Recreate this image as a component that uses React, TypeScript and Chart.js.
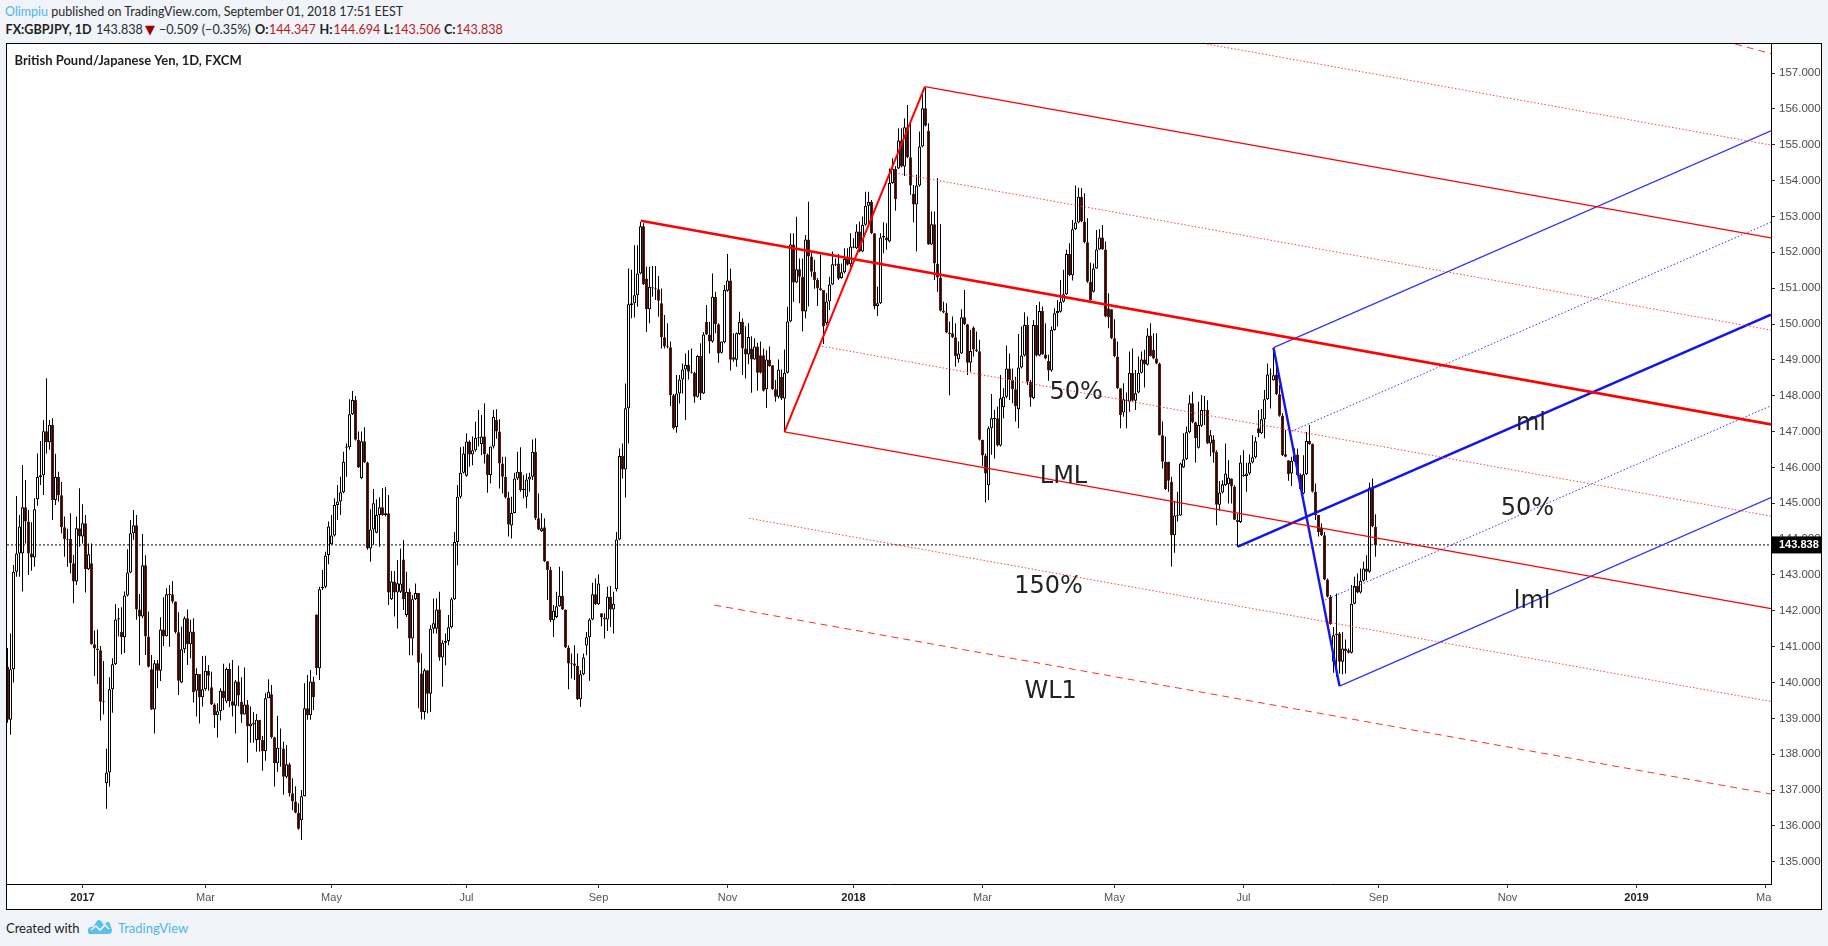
import React, { useEffect, useRef } from "react";
import { Chart, registerables } from "chart.js";

Chart.register(...registerables);

const opens = [
140.44,138.96,140.37,143.09,143.6,143.6,144.89,144.49,143.6,143.49,
145.11,145.73,145.78,147.01,146.7,147.18,145.09,145.73,145.22,144.33,
144.0,144.0,143.33,142.82,144.3,144.07,144.44,143.16,143.33,141.07,
140.95,140.9,139.47,137.19,137.49,139.81,140.51,141.76,141.41,141.26,
142.43,143.07,144.16,144.39,142.04,141.84,143.27,141.28,140.37,139.25,
140.54,140.33,141.48,141.29,142.46,142.46,142.26,141.4,140.0,140.93,
141.79,141.07,141.42,139.77,140.24,139.59,139.81,140.33,139.87,139.39,
139.09,139.2,139.77,139.47,140.38,139.48,139.35,140.03,139.47,139.11,
139.39,138.78,138.88,138.4,138.96,138.4,138.08,139.56,139.67,138.47,
137.75,138.18,138.16,137.37,137.72,136.91,136.68,136.37,136.16,136.83,
139.28,139.09,140.03,141.9,140.4,142.63,142.67,143.56,143.86,144.1,
144.95,145.05,145.31,146.58,146.56,147.48,147.88,146.77,145.7,146.73,
146.14,143.74,144.27,144.18,144.67,144.89,144.67,144.72,142.32,142.82,
142.51,142.53,143.43,141.88,142.53,141.23,142.32,142.5,140.25,139.18,
140.34,139.69,141.5,141.5,142.04,140.7,141.11,141.16,141.54,142.32,
143.92,145.18,145.85,145.77,146.72,146.36,146.48,146.81,146.65,146.86,
146.36,145.79,146.58,147.32,147.0,146.11,145.74,145.16,144.38,144.73,
145.69,145.88,145.37,145.18,145.66,145.74,146.44,144.58,144.22,144.33,
143.38,143.14,141.74,141.83,142.13,142.42,142.04,140.98,140.53,140.53,
140.47,139.53,140.23,141.03,141.26,141.76,142.46,142.18,141.93,141.81,
141.76,142.39,142.04,142.6,143.99,146.32,145.94,147.65,150.53,150.58,
150.8,151.41,152.73,151.27,150.41,151.02,150.99,150.97,150.58,149.63,
149.37,149.35,148.01,147.13,148.06,148.45,148.73,148.86,148.67,148.64,
147.97,149.11,148.06,150.06,149.71,149.51,150.76,149.99,149.2,149.49,
150.93,151.21,149.07,149.0,149.72,150.06,149.32,149.15,149.32,149.01,
149.37,149.13,149.13,148.18,149.01,148.85,148.18,147.97,148.53,147.92,
148.64,150.07,152.22,151.16,151.53,151.32,150.35,152.36,151.88,151.46,
151.23,151.0,150.95,150.02,150.63,151.1,151.67,151.69,151.28,151.44,
151.81,151.67,152.16,152.11,152.58,152.02,152.77,153.3,153.41,152.53,
150.5,150.58,152.41,152.41,152.3,153.93,154.33,154.34,155.12,154.39,
155.49,154.65,153.63,153.33,153.86,154.95,156.02,155.38,152.22,152.78,
151.69,151.3,150.37,150.32,149.76,149.74,149.63,149.02,149.18,150.19,
149.99,148.92,149.9,149.29,149.24,146.77,146.33,145.5,147.09,147.35,
147.37,146.61,147.68,147.97,148.76,148.44,148.18,147.62,148.79,149.12,
149.97,148.39,147.93,149.97,149.12,150.36,149.15,148.97,148.7,149.83,
150.3,150.34,150.62,150.83,151.95,151.36,152.64,152.83,153.55,152.86,
152.28,151.18,150.9,151.55,152.08,152.41,152.08,150.44,150.41,149.6,
149.09,148.21,147.53,147.86,147.83,148.64,147.86,148.09,148.64,149.01,
148.86,149.68,149.28,149.04,148.9,146.9,146.16,146.16,145.6,144.11,
144.65,144.66,146.0,146.23,146.98,147.79,147.26,146.55,147.16,147.58,
147.6,146.67,146.78,146.43,144.96,145.3,145.5,145.53,145.69,145.47,
144.53,144.48,145.78,145.76,145.83,146.14,146.28,147.09,146.95,147.34,
147.9,148.59,148.43,148.59,148.04,147.44,146.37,146.2,145.83,146.17,
146.36,145.79,145.27,145.81,146.74,146.65,145.32,144.67,144.32,144.11,
142.87,142.39,140.58,141.37,141.37,140.58,140.95,140.9,140.83,142.2,
142.69,142.51,142.84,143.18,143.09,145.44,144.347,
];

const closes = [
138.96,140.37,143.09,143.6,144.35,144.89,144.49,143.6,143.49,144.83,
145.73,145.78,147.01,146.7,147.19,145.09,145.73,145.22,144.33,144.0,
143.98,143.33,142.82,144.3,144.07,144.44,143.16,143.58,141.07,140.95,
140.9,139.46,139.45,137.49,139.81,140.51,141.76,141.79,141.26,142.43,
143.07,144.16,144.39,142.04,141.84,143.27,141.28,140.44,139.25,140.54,
140.33,141.48,141.29,142.46,142.44,142.26,141.4,140.05,140.93,141.79,
141.07,141.42,139.73,140.24,139.59,139.81,140.33,140.19,139.39,139.09,
139.2,139.77,139.56,140.38,139.48,139.35,140.03,139.64,139.11,139.39,
138.78,138.86,138.83,138.96,138.4,138.08,139.56,139.74,138.47,137.75,
138.18,138.16,137.37,137.72,136.91,136.68,136.37,135.92,136.83,139.28,
139.09,140.03,139.59,140.4,142.6,142.67,143.54,144.35,144.1,144.95,
145.05,145.31,146.16,146.55,147.48,147.88,146.77,146.0,146.73,146.14,
143.74,144.27,145.0,144.67,144.89,144.67,144.72,142.51,142.82,142.51,
142.77,142.76,142.32,142.53,141.23,142.32,142.5,140.55,139.18,140.34,
139.69,141.5,141.65,142.04,140.7,141.11,141.16,141.54,142.32,143.92,
145.18,145.85,146.39,146.72,146.36,146.48,146.83,146.84,146.86,146.36,
145.79,146.58,147.41,147.0,146.11,145.74,145.16,144.41,144.73,145.69,
145.88,145.37,145.39,145.66,145.74,146.44,144.58,144.27,144.3,143.38,
143.14,141.74,142.0,142.13,142.42,142.04,140.98,140.53,140.51,140.47,
139.53,140.23,140.7,141.26,141.76,142.46,142.18,142.76,141.81,141.76,
142.39,142.04,142.2,143.99,146.32,145.94,147.65,150.55,150.58,150.8,
151.41,152.73,151.11,150.41,151.04,151.0,150.97,150.65,149.63,149.37,
149.35,148.01,147.1,148.06,148.45,148.73,148.86,148.67,148.64,147.97,
149.11,148.06,149.71,149.71,149.51,150.76,149.99,149.18,149.51,150.95,
151.21,149.0,149.0,149.74,150.06,149.32,149.15,149.64,149.01,149.37,
148.64,148.64,148.14,149.01,148.83,148.18,147.97,148.73,147.92,148.64,
150.07,152.22,151.16,151.53,151.32,150.35,152.36,151.88,151.46,151.23,
151.0,150.95,149.93,150.63,151.1,151.67,151.64,151.26,151.44,151.81,
151.65,152.16,152.13,152.58,152.02,152.77,153.3,153.41,152.53,150.49,
150.58,152.41,152.46,152.33,153.93,154.33,153.48,155.12,154.39,155.49,
154.65,153.86,153.33,153.86,154.95,156.02,155.53,152.22,152.78,151.69,
151.3,150.37,150.32,149.76,149.72,149.63,149.11,149.18,150.19,149.99,
148.92,149.25,149.29,149.24,146.77,146.33,145.83,147.09,147.37,147.37,
146.61,147.93,147.97,148.76,148.44,148.18,147.71,148.79,149.12,149.97,
148.39,147.95,149.97,149.12,150.36,149.15,149.04,148.7,149.83,150.3,
150.36,150.62,150.83,151.95,151.36,152.64,152.83,153.55,152.86,152.28,
151.18,150.67,151.55,152.08,152.41,152.08,150.21,150.19,149.6,149.11,
148.21,147.46,147.9,147.88,148.64,147.86,148.07,148.64,149.01,148.88,
149.68,149.11,149.04,148.9,146.9,146.16,145.39,145.63,144.11,144.66,
144.66,146.11,146.23,146.98,147.79,147.26,146.82,147.18,147.6,147.6,
146.67,146.9,146.41,144.96,145.3,145.53,145.83,145.72,145.47,144.54,
144.48,146.14,145.76,145.83,146.14,146.28,146.73,146.95,147.34,147.9,
148.59,148.62,148.57,148.04,147.44,146.34,146.3,145.81,146.18,146.34,
145.79,145.39,145.81,146.74,146.65,145.32,144.67,144.19,144.11,142.87,
142.39,141.63,141.32,141.32,140.58,140.95,140.88,140.83,142.2,142.69,
142.51,142.84,143.18,143.09,145.44,144.35,143.838,
];

const highs = [
140.96,141.37,143.28,145.2,144.67,146.07,145.65,144.81,144.47,145.14,
146.39,146.74,147.32,148.49,147.32,147.37,146.38,145.88,145.59,144.63,
144.29,144.72,143.56,144.63,145.42,144.97,144.67,143.88,143.88,141.45,
141.48,141.02,140.6,138.16,140.15,140.68,142.19,142.07,142.1,142.54,
143.72,144.53,144.81,144.67,142.47,144.14,143.55,141.98,140.77,140.63,
140.63,141.82,142.38,142.63,142.72,142.83,142.26,141.96,141.56,141.84,
142.04,141.75,141.79,140.4,140.24,140.74,140.75,140.49,140.3,139.42,
139.42,139.84,140.52,140.42,140.54,140.63,140.07,140.47,140.15,140.42,
139.51,139.33,139.17,139.12,138.95,138.51,139.7,140.09,139.93,138.49,
139.07,138.72,138.35,138.26,137.76,137.33,137.11,136.63,137.0,139.98,
140.21,140.35,140.16,141.9,142.67,143.14,143.65,144.49,144.67,145.14,
145.51,145.74,146.44,146.67,147.9,148.13,147.99,147.0,147.0,147.12,
146.16,144.83,145.4,145.11,145.17,145.42,145.45,145.23,143.11,143.11,
143.42,143.74,143.97,143.09,142.62,142.44,142.76,142.5,140.81,140.39,
140.34,141.6,142.34,142.34,142.53,141.18,141.37,141.88,142.37,144.2,
145.51,146.56,146.58,146.95,146.76,146.86,147.27,147.6,147.46,147.79,
146.39,146.58,147.6,147.62,147.34,146.3,146.3,145.32,145.18,145.85,
146.44,146.56,145.79,145.83,145.85,146.78,146.81,145.27,144.72,144.58,
143.38,143.23,142.16,142.53,143.23,143.11,142.04,141.04,140.81,141.04,
140.81,140.34,140.81,141.41,141.79,142.78,142.9,143.02,141.93,141.93,
142.67,142.69,142.53,144.2,146.53,146.67,148.34,151.55,151.51,152.2,
152.2,152.85,152.81,151.6,151.6,151.62,151.62,151.34,150.99,150.25,
150.02,149.51,148.05,148.58,148.58,148.9,149.18,149.27,149.32,148.67,
149.13,149.46,149.78,150.53,150.06,151.41,150.9,150.02,149.51,151.09,
151.95,151.55,149.74,149.76,150.34,150.16,149.94,150.02,149.66,149.6,
149.48,149.51,149.32,149.27,149.37,148.85,148.44,149.01,148.73,149.29,
150.48,152.53,152.53,152.99,151.83,151.83,152.48,153.41,151.97,151.79,
151.28,151.93,150.95,150.86,151.32,152.02,151.83,151.95,151.69,152.11,
152.11,152.53,152.39,152.78,152.86,153.0,153.69,153.69,153.46,152.53,
151.04,152.53,152.84,152.81,154.34,154.62,154.41,155.46,155.46,155.74,
156.11,155.65,153.88,154.16,155.37,156.53,156.59,155.6,153.14,153.14,
154.07,152.78,150.62,150.58,150.07,150.21,150.02,149.51,150.41,150.95,
150.0,149.83,149.93,149.79,149.56,146.77,146.39,147.14,148.05,147.6,
147.69,148.58,148.21,149.4,149.18,148.76,148.53,149.72,149.93,150.33,
150.21,148.44,150.11,150.53,150.62,150.49,150.02,149.14,149.93,150.44,
150.67,151.23,151.51,152.07,152.25,152.9,153.86,153.8,153.79,153.65,
152.95,151.71,151.69,152.62,152.64,152.76,152.3,150.86,150.41,150.13,
149.51,148.21,148.35,148.09,149.23,149.32,148.72,149.09,149.23,149.28,
149.88,150.02,149.74,149.74,148.92,147.28,146.86,146.16,145.74,145.04,
145.32,146.13,146.95,147.14,148.02,148.11,147.27,147.83,148.01,147.99,
147.87,147.04,146.9,146.48,145.62,145.64,146.67,146.2,145.69,145.5,
144.71,146.34,146.48,146.13,146.36,146.9,146.85,147.6,147.63,148.16,
148.9,148.76,149.32,148.81,148.3,147.51,147.04,146.2,146.3,146.53,
146.53,145.83,146.34,146.99,147.18,146.67,145.55,144.67,144.44,144.2,
142.9,142.44,141.55,142.48,141.41,141.41,141.2,140.95,142.72,142.95,
143.04,143.18,143.37,143.55,145.57,145.69,144.694,
];

const lows = [
138.88,138.54,140.0,142.95,142.95,142.54,143.88,143.0,143.12,143.23,
144.93,145.51,145.23,146.39,146.49,144.53,144.95,145.05,144.16,143.51,
143.23,143.05,142.21,142.72,143.79,143.88,142.51,143.14,141.05,140.18,
139.96,138.94,139.11,136.48,137.1,139.16,140.49,141.28,140.79,140.82,
142.4,143.05,143.98,141.75,140.48,141.79,140.77,140.42,139.23,138.58,
139.84,140.04,141.02,141.28,141.0,142.21,141.37,139.65,139.98,140.82,
140.49,140.68,139.44,139.05,138.86,139.33,139.77,139.77,139.37,138.74,
138.46,138.94,139.23,139.42,139.31,139.05,138.58,139.33,138.88,139.11,
137.76,138.32,138.32,138.07,138.07,137.54,137.82,139.56,138.44,137.1,
137.51,137.65,136.87,137.33,136.82,136.44,136.35,135.89,135.61,136.82,
138.96,138.96,139.23,140.21,140.07,142.58,142.63,143.3,143.84,144.07,
144.53,144.67,145.28,145.74,146.49,147.46,146.75,145.98,145.67,146.12,
143.7,143.37,143.84,144.16,143.79,144.65,144.63,142.16,142.3,141.84,
141.51,142.5,142.02,141.83,140.76,140.76,142.3,139.28,138.97,138.97,
139.14,139.18,141.37,141.37,140.61,139.88,140.48,141.04,141.51,142.3,
143.27,145.13,145.83,145.74,146.02,146.06,146.44,146.58,146.34,146.11,
145.29,145.55,146.53,146.8,145.41,145.27,145.13,144.07,144.02,144.72,
145.65,145.32,145.13,144.86,145.32,145.65,144.53,144.25,144.2,143.36,
142.3,141.69,141.27,141.79,142.11,142.02,140.96,139.81,140.11,140.07,
139.51,139.32,140.2,140.76,140.05,141.74,142.16,142.16,141.57,141.23,
141.44,141.55,141.37,142.54,143.97,145.69,145.16,146.67,150.16,150.18,
150.48,151.39,151.09,149.78,150.02,150.76,150.67,150.2,149.32,149.32,
149.32,147.71,147.06,146.97,147.78,148.06,147.32,148.45,148.62,147.8,
147.95,147.88,148.05,149.69,149.18,149.48,149.74,148.92,149.18,149.46,
150.9,148.7,148.95,148.81,149.69,148.58,148.48,148.88,148.08,149.0,
148.14,148.62,148.12,147.66,148.81,148.16,147.83,147.92,147.88,146.99,
148.62,150.05,150.62,151.14,150.58,149.79,150.16,150.49,151.32,150.98,
150.5,150.93,149.44,149.97,150.39,151.09,151.62,151.23,151.26,151.41,
151.63,151.6,152.11,152.09,152.0,152.0,152.74,152.72,152.51,150.41,
150.22,150.56,151.97,152.07,152.28,153.91,153.16,154.32,154.37,154.13,
154.62,153.6,152.84,152.02,153.83,154.93,155.51,152.21,152.21,151.23,
150.9,150.35,150.3,149.74,148.01,149.61,148.81,148.92,149.16,149.97,
148.58,148.67,149.09,149.22,146.75,146.04,145.02,145.09,146.35,146.25,
146.58,146.58,147.37,147.93,147.88,147.79,147.28,147.09,148.76,149.09,
148.3,147.69,147.9,149.09,149.1,149.14,149.02,148.42,148.67,149.81,
149.93,150.32,150.6,150.81,151.34,151.21,152.62,152.81,152.84,152.25,
151.15,150.65,150.88,151.54,152.07,152.07,150.19,149.88,149.58,149.07,
148.19,147.09,147.41,147.09,147.55,147.84,147.6,148.07,148.62,148.23,
148.84,149.09,149.02,148.88,146.89,145.97,145.37,145.32,143.23,143.62,
144.49,144.65,145.98,146.21,146.95,147.23,146.13,146.53,147.13,147.18,
146.65,146.31,146.13,144.39,144.79,145.27,145.48,144.99,144.99,144.53,
143.78,144.45,145.74,145.32,145.79,146.11,146.25,146.84,146.93,146.81,
147.88,147.64,148.42,148.02,147.41,146.32,146.28,145.63,145.48,146.16,
145.77,145.37,145.25,145.79,146.63,145.3,144.53,144.07,144.09,142.85,
142.37,141.61,140.27,140.16,140.25,140.23,140.25,140.81,140.81,142.18,
142.49,142.48,142.82,142.85,143.06,144.33,143.506,
];

const lastPrice = 143.838;
const priceTicks = [135,136,137,138,139,140,141,142,143,144,145,146,147,148,149,150,151,152,153,154,155,156,157];
const timeTickBars = [25,66,108,153,197,240,282,325,369,412,457,500,543,586];
const timeTickLabels = ["2017","Mar","May","Jul","Sep","Nov","2018","Mar","May","Jul","Sep","Nov","2019","Mar"];
const boldTimeLabels = ["2017","2018","2019"];

const RED = "#ff0000";
const BLUE = "#1414f0";
const PINK = "#ff4040";
const LIGHTBLUE = "#3030ff";

const redMedian = [{x:211.1,y:152.88},{x:587.83,y:147.2}];
const redUpper = [{x:305.8,y:156.62},{x:587.83,y:152.4}];
const redLower = [{x:259,y:146.99},{x:587.83,y:142.06}];
const redHandle = [{x:259,y:146.99},{x:305.8,y:156.62}];
const redUpper50 = [{x:297,y:154.2},{x:587.83,y:149.83}];
const redLower50 = [{x:271.5,y:149.38},{x:587.83,y:144.64}];
const redLower150 = [{x:247.2,y:144.58},{x:587.83,y:139.47}];
const redWarning = [{x:235.6,y:142.16},{x:587.83,y:136.89}];
const redUpper150 = [{x:399.8,y:157.81},{x:587.83,y:154.99}];
const redUpperWarning = [{x:575.9,y:157.81},{x:587.83,y:157.54}];
const blueMedian = [{x:410.1,y:143.79},{x:587.83,y:150.26}];
const blueHandle = [{x:422,y:149.34},{x:444,y:139.9}];
const blueUpper = [{x:422,y:149.34},{x:587.83,y:155.39}];
const blueLower = [{x:444,y:139.9},{x:587.83,y:145.16}];
const blueUpper50 = [{x:428.1,y:147.01},{x:587.83,y:152.84}];
const blueLower50 = [{x:439.2,y:142.3},{x:587.83,y:147.72}];
const priceLine = [{x:-0.17,y:lastPrice},{x:587.83,y:lastPrice}];

const noteLabels = ["ml","50%","lml","50%","LML","150%","WL1"];
const noteBars = [507.8,506.6,508.2,356.2,352,347,347.7];
const notePrices = [147.21,144.84,142.24,148.07,145.74,142.67,139.74];

const lineDs = (data: any[], color: string, width: number, dash: number[] = []) => ({
  type: "line" as const,
  data,
  borderColor: color,
  borderWidth: width,
  borderDash: dash,
  pointRadius: 0,
  pointHoverRadius: 0,
  fill: false,
  tension: 0,
  order: 1,
  parsing: false as const,
  borderCapStyle: "butt" as const,
});

const overlay = {
  id: "overlay",
  afterDatasetsDraw(chart: any) {
    const { ctx, scales, chartArea, width, height } = chart;
    ctx.save();
    // the last time label is cut off by the price axis column
    ctx.fillStyle = "#ffffff";
    ctx.fillRect(chartArea.right + 1, chartArea.bottom + 1, width - chartArea.right, height - chartArea.bottom);
    // drawing notes
    ctx.font = '24px "DejaVu Sans"';
    ctx.fillStyle = "#222222";
    ctx.textAlign = "center";
    ctx.textBaseline = "middle";
    noteLabels.forEach((t, i) => {
      ctx.fillText(t, scales.x.getPixelForValue(noteBars[i]), scales.y.getPixelForValue(notePrices[i]));
    });
    // chart title
    ctx.font = 'bold 13px "Lato"';
    ctx.textAlign = "left";
    ctx.fillStyle = "#1e1e1e";
    ctx.fillText("British Pound/Japanese Yen, 1D, FXCM", 7.5, 17);
    // last price box
    const yy = scales.y.getPixelForValue(lastPrice);
    ctx.fillStyle = "#000000";
    ctx.fillRect(chartArea.right, yy - 8.5, width - chartArea.right, 17);
    ctx.fillStyle = "#ffffff";
    ctx.font = 'bold 11px "Liberation Sans"';
    ctx.textAlign = "left";
    ctx.fillText(lastPrice.toFixed(3), chartArea.right + 8, yy + 0.5);
    ctx.restore();
  },
};

const dropPadding = (scale: any) => {
  scale.paddingTop = 0;
  scale.paddingBottom = 0;
  scale.paddingLeft = 0;
  scale.paddingRight = 0;
};

export default function App() {
  const ref = useRef<HTMLCanvasElement | null>(null);
  useEffect(() => {
    document.body.style.margin = "0";
    document.body.style.background = "#f0f3f7";
    const bars = opens.map((_, i) => i);
    const isUp = (i: number) => closes[i] >= opens[i];
    const chart = new Chart(ref.current as HTMLCanvasElement, {
      type: "bar",
      data: {
        datasets: [
          lineDs(redMedian, RED, 2.6),
          lineDs(redHandle, RED, 2),
          lineDs(redUpper, RED, 1.2),
          lineDs(redLower, RED, 1.2),
          lineDs(redUpper50, PINK, 1, [1.5, 2]),
          lineDs(redLower50, PINK, 1, [1.5, 2]),
          lineDs(redLower150, PINK, 1, [1.5, 2]),
          lineDs(redUpper150, PINK, 1, [1.5, 2]),
          lineDs(redWarning, "#ff3030", 1, [7, 5]),
          lineDs(redUpperWarning, "#ff3030", 1, [7, 5]),
          lineDs(blueMedian, BLUE, 2.6),
          lineDs(blueHandle, BLUE, 2.4),
          lineDs(blueUpper, LIGHTBLUE, 1.2),
          lineDs(blueLower, LIGHTBLUE, 1.2),
          lineDs(blueUpper50, LIGHTBLUE, 1, [1.5, 2]),
          lineDs(blueLower50, LIGHTBLUE, 1, [1.5, 2]),
          lineDs(priceLine, "#000000", 1, [2, 2]),
          {
            type: "bar",
            label: "body",
            data: bars.map((i) => ({ x: i, y: [opens[i], closes[i]] })),
            backgroundColor: bars.map((i) => (isUp(i) ? "#ffffff" : "#1c0c0a")),
            borderColor: bars.map((i) => (isUp(i) ? "#000000" : "#5a1a14")),
            borderWidth: 1,
            borderSkipped: false,
            barThickness: 3,
            minBarLength: 1,
            inflateAmount: 0,
            order: 5,
          },
          {
            type: "bar",
            label: "wick",
            data: bars.map((i) => ({ x: i, y: [lows[i], highs[i]] })),
            backgroundColor: "#000000",
            borderWidth: 0,
            barThickness: 1,
            inflateAmount: 0,
            order: 6,
          },
        ] as any,
      },
      options: {
        animation: false,
        responsive: false,
        maintainAspectRatio: false,
        devicePixelRatio: 1,
        layout: { padding: 0 },
        plugins: { legend: { display: false }, tooltip: { enabled: false }, title: { display: false } },
        datasets: { bar: { grouped: false } },
        scales: {
          x: {
            type: "linear",
            offset: false,
            min: -0.1667,
            max: 587.8333,
            grid: { offset: false, display: true, drawOnChartArea: false, drawTicks: true, tickLength: 4, color: "#333333" },
            border: { display: true, color: "#000000", width: 1 },
            afterBuildTicks(scale: any) {
              scale.ticks = timeTickBars.map((v) => ({ value: v }));
            },
            afterFit(scale: any) {
              scale.height = 25;
              dropPadding(scale);
            },
            ticks: {
              autoSkip: false,
              maxRotation: 0,
              padding: 3,
              callback(value: any) {
                return timeTickLabels[timeTickBars.indexOf(value)];
              },
              color(c: any) {
                const label = timeTickLabels[c.index];
                return boldTimeLabels.includes(label) ? "#222222" : "#555555";
              },
              font(c: any) {
                const label = timeTickLabels[c.index];
                return { family: "Liberation Sans", size: 11, weight: boldTimeLabels.includes(label) ? "bold" : "normal" };
              },
            },
          },
          y: {
            type: "linear",
            position: "right",
            min: 134.38,
            max: 157.81,
            grid: { display: true, drawOnChartArea: false, drawTicks: true, tickLength: 4, color: "#333333" },
            border: { display: true, color: "#000000", width: 1 },
            afterBuildTicks(scale: any) {
              scale.ticks = priceTicks.map((v) => ({ value: v }));
            },
            afterFit(scale: any) {
              scale.width = 50;
              dropPadding(scale);
            },
            ticks: {
              autoSkip: false,
              padding: 4,
              color: "#4c4c4c",
              font: { family: "Liberation Sans", size: 11.5 },
              callback(value: any) {
                return Number(value).toFixed(3);
              },
            },
          },
        },
      } as any,
      plugins: [overlay],
    });
    return () => chart.destroy();
  }, []);

  const base: React.CSSProperties = { position: "absolute", whiteSpace: "nowrap", fontFamily: "Lato", fontSize: 13, lineHeight: "18px", color: "#2a2a2a" };
  const row2 = (left: number, text: string, extra: React.CSSProperties = {}) => (
    <div style={{ ...base, left, top: 21, fontSize: 12.6, ...extra }}>{text}</div>
  );
  const redTxt: React.CSSProperties = { color: "#b71c1c" };
  const b: React.CSSProperties = { fontWeight: 700, color: "#1e1e1e" };
  return (
    <div style={{ position: "fixed", left: 0, top: 0, width: 1828, height: 946, background: "#f0f3f7", overflow: "hidden" }}>
      <div style={{ ...base, left: 5, top: 3, fontSize: 12.5 }}>
        <span style={{ color: "#4fb6ea" }}>Olimpiu</span> published on TradingView.com, September 01, 2018 17:51 EEST
      </div>
      {row2(5.5, "FX:GBPJPY, 1D", b)}
      {row2(96, "143.838")}
      {row2(145, "▼", { color: "#a00000", fontFamily: "DejaVu Sans", fontSize: 13 })}
      {row2(159, "−0.509 (−0.35%)")}
      {row2(255, "O:", b)}
      {row2(269, "144.347", redTxt)}
      {row2(319.5, "H:", b)}
      {row2(333.5, "144.694", redTxt)}
      {row2(383.5, "L:", b)}
      {row2(394, "143.506", redTxt)}
      {row2(444, "C:", b)}
      {row2(456, "143.838", redTxt)}
      <div style={{ position: "absolute", left: 6, top: 43, width: 1814, height: 865, border: "1px solid #000", background: "#fff" }}>
        <canvas ref={ref} width={1814} height={865} style={{ display: "block", width: 1814, height: 865 }} />
      </div>
      <div style={{ ...base, left: 6, top: 919, color: "#222" }}>Created with</div>
      <svg style={{ position: "absolute", left: 87, top: 919 }} width="26" height="16" viewBox="0 0 26 16">
        <path d="M1 14 L1 10 Q3 7 6 8 L10 2 Q12 0 14 2 L17 6 L20 3 Q22 2 23 5 L25 11 Q25 15 21 15 L3 15 Z" fill="#5bc0e8" />
        <path d="M4 11 L9 7 L13 11 L18 6 L22 10" stroke="#f0f3f7" strokeWidth="1.6" fill="none" />
      </svg>
      <div style={{ ...base, left: 118, top: 919, color: "#4fb6ea" }}>TradingView</div>
    </div>
  );
}
